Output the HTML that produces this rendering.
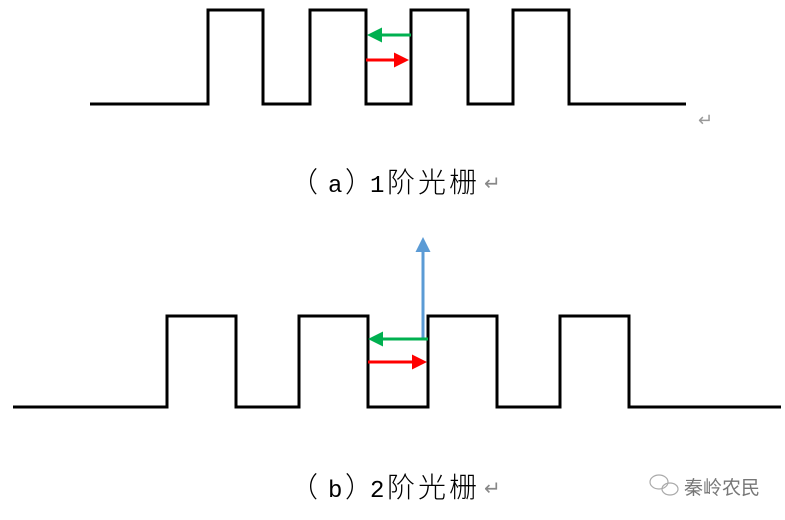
<!DOCTYPE html>
<html><head><meta charset="utf-8"><style>
html,body{margin:0;padding:0;background:#fff;width:785px;height:520px;overflow:hidden}
</style></head><body>
<svg width="785" height="520" xmlns="http://www.w3.org/2000/svg">
<defs>
<marker id="g" markerWidth="5" markerHeight="5" refX="4" refY="2.5" orient="auto" markerUnits="strokeWidth"><path d="M0,0 L5,2.5 L0,5 z" fill="#00b050"/></marker>
<marker id="r" markerWidth="5" markerHeight="5" refX="4" refY="2.5" orient="auto" markerUnits="strokeWidth"><path d="M0,0 L5,2.5 L0,5 z" fill="#ff0000"/></marker>
<marker id="b" markerWidth="5" markerHeight="5" refX="4" refY="2.5" orient="auto" markerUnits="strokeWidth"><path d="M0,0 L5,2.5 L0,5 z" fill="#5b9bd5"/></marker>
</defs>
<polyline fill="none" stroke="#000" stroke-width="3" points="90,104 208,104 208,10 263,10 263,104 310,104 310,10 366,10 366,104 411,104 411,10 468,10 468,104 513,104 513,10 569,10 569,104 686,104"/>
<line x1="411" y1="35" x2="370" y2="35" stroke="#00b050" stroke-width="3" marker-end="url(#g)"/>
<line x1="366" y1="60" x2="406" y2="60" stroke="#ff0000" stroke-width="3" marker-end="url(#r)"/>
<text x="698" y="126" font-family="Liberation Sans, sans-serif" font-size="18" fill="#999">↵</text>
<g font-family="'Noto Sans CJK SC', sans-serif" font-size="28" fill="#000" font-weight="300">
<text x="290" y="192">（</text><text x="328" y="192" font-family="Liberation Mono, monospace" font-size="24">a</text><text x="345" y="192">）</text>
<text x="370" y="192" font-family="Liberation Mono, monospace" font-size="24">1</text>
<text x="387" y="192" letter-spacing="3">阶光栅</text>
<text x="484" y="190" fill="#888" font-family="Liberation Sans, sans-serif" font-size="20">↵</text>
<text x="290" y="497">（</text><text x="328" y="497" font-family="Liberation Mono, monospace" font-size="24">b</text><text x="345" y="497">）</text>
<text x="370" y="497" font-family="Liberation Mono, monospace" font-size="24">2</text>
<text x="387" y="497" letter-spacing="3">阶光栅</text>
<text x="484" y="495" fill="#888" font-family="Liberation Sans, sans-serif" font-size="20">↵</text>
</g>
<polyline fill="none" stroke="#000" stroke-width="3" points="13,407 167,407 167,316 236,316 236,407 299,407 299,316 368,316 368,407 428,407 428,316 497,316 497,407 560,407 560,316 629,316 629,407 781,407"/>
<line x1="423" y1="339" x2="423" y2="240" stroke="#5b9bd5" stroke-width="3" marker-end="url(#b)"/>
<line x1="428" y1="339" x2="371" y2="339" stroke="#00b050" stroke-width="3" marker-end="url(#g)"/>
<line x1="368" y1="362" x2="424" y2="362" stroke="#ff0000" stroke-width="3" marker-end="url(#r)"/>
<g fill="none" stroke="#aaa" stroke-width="1.2"><ellipse cx="659" cy="482" rx="9" ry="7"/><ellipse cx="670" cy="489" rx="8" ry="6"/></g>
<text x="684" y="494" font-family="'Noto Sans CJK SC', sans-serif" font-size="19" fill="#777">秦岭农民</text>
</svg>
</body></html>
